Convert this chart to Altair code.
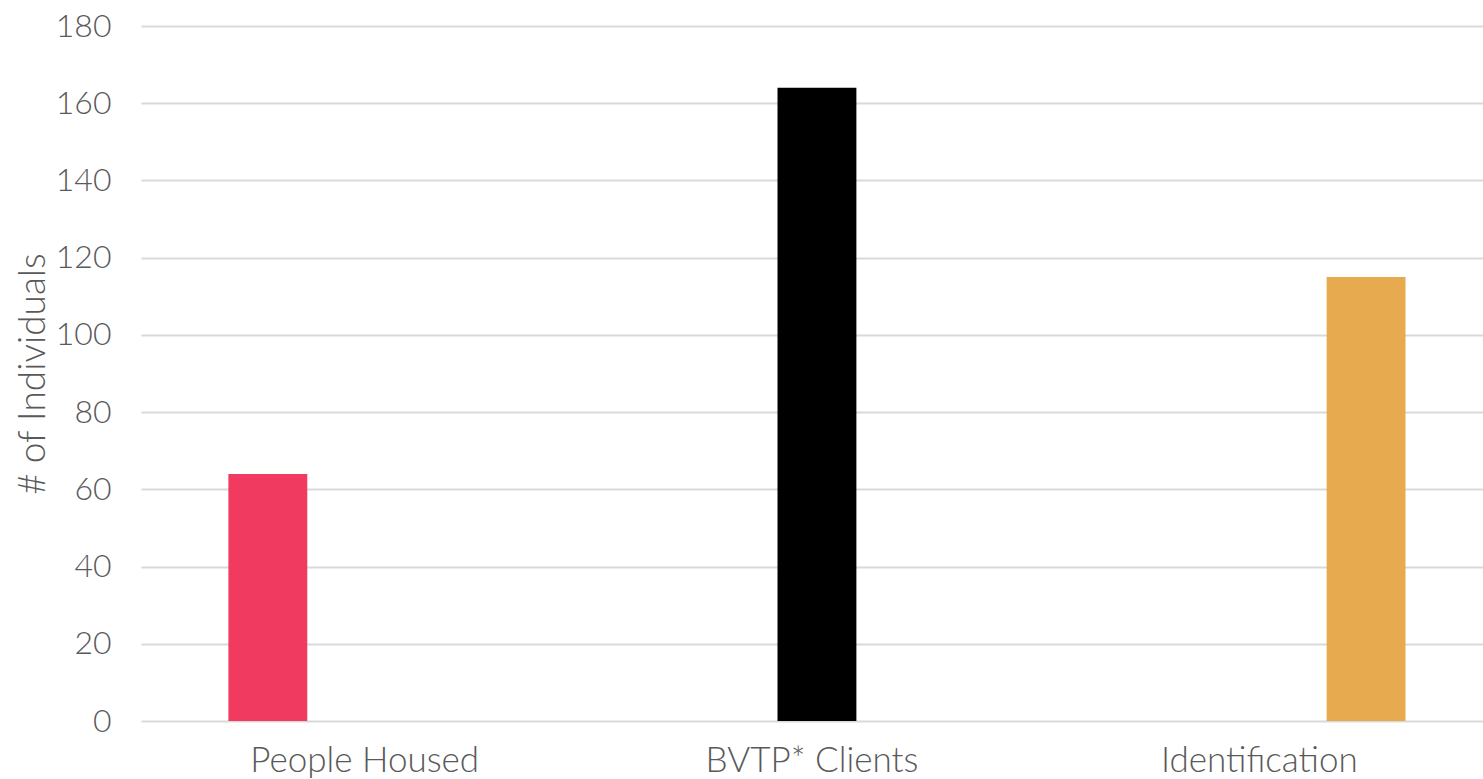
import altair as alt
import pandas as pd

categories = ["People Housed", "BVTP* Clients", "Identification"]
series = ["People Housed", "BVTP* Clients", "Identification"]
values = [64, 164, 115]
colors = ["#F03A5F", "#000000", "#E8AA4E"]
y_ticks = list(range(0, 181, 20))

df = pd.DataFrame({"category": categories, "series": series, "value": values})

FONT = "Lato"
GRAY = "#595959"

chart = alt.Chart(df).mark_bar().encode(
    x=alt.X("category:N", sort=categories,
            scale=alt.Scale(paddingInner=0, paddingOuter=0),
            axis=alt.Axis(title=None, labelAngle=0, ticks=False, domain=False,
                          labelFont=FONT, labelFontSize=35, labelColor=GRAY,
                          labelFontWeight=300, labelLimit=0,
                          labelPadding=22, grid=False)),
    xOffset=alt.XOffset("series:N", sort=series,
                        scale=alt.Scale(paddingInner=0.225, paddingOuter=0.81, align=0.53)),
    y=alt.Y("value:Q",
            scale=alt.Scale(domain=[0, 180], nice=False),
            axis=alt.Axis(title="# of Individuals", values=y_ticks, ticks=False, domain=False,
                          labelFont=FONT, labelFontSize=32, labelColor=GRAY,
                          labelFontWeight=300,
                          labelPadding=30, titleFont=FONT, titleFontSize=37,
                          titleColor=GRAY, titleFontWeight=300, titlePadding=3,
                          gridColor="#D9D9D9", gridWidth=2)),
    color=alt.Color("series:N", sort=series,
                    scale=alt.Scale(domain=series, range=colors), legend=None),
).properties(
    width=1342, height=695,
    background="white",
    autosize=alt.AutoSizeParams(type="none"),
    padding={"left": 141, "top": 26, "right": 0, "bottom": 58},
).configure_view(stroke=None)

chart.save("out.html", embed_options={"renderer": "svg", "actions": False})
